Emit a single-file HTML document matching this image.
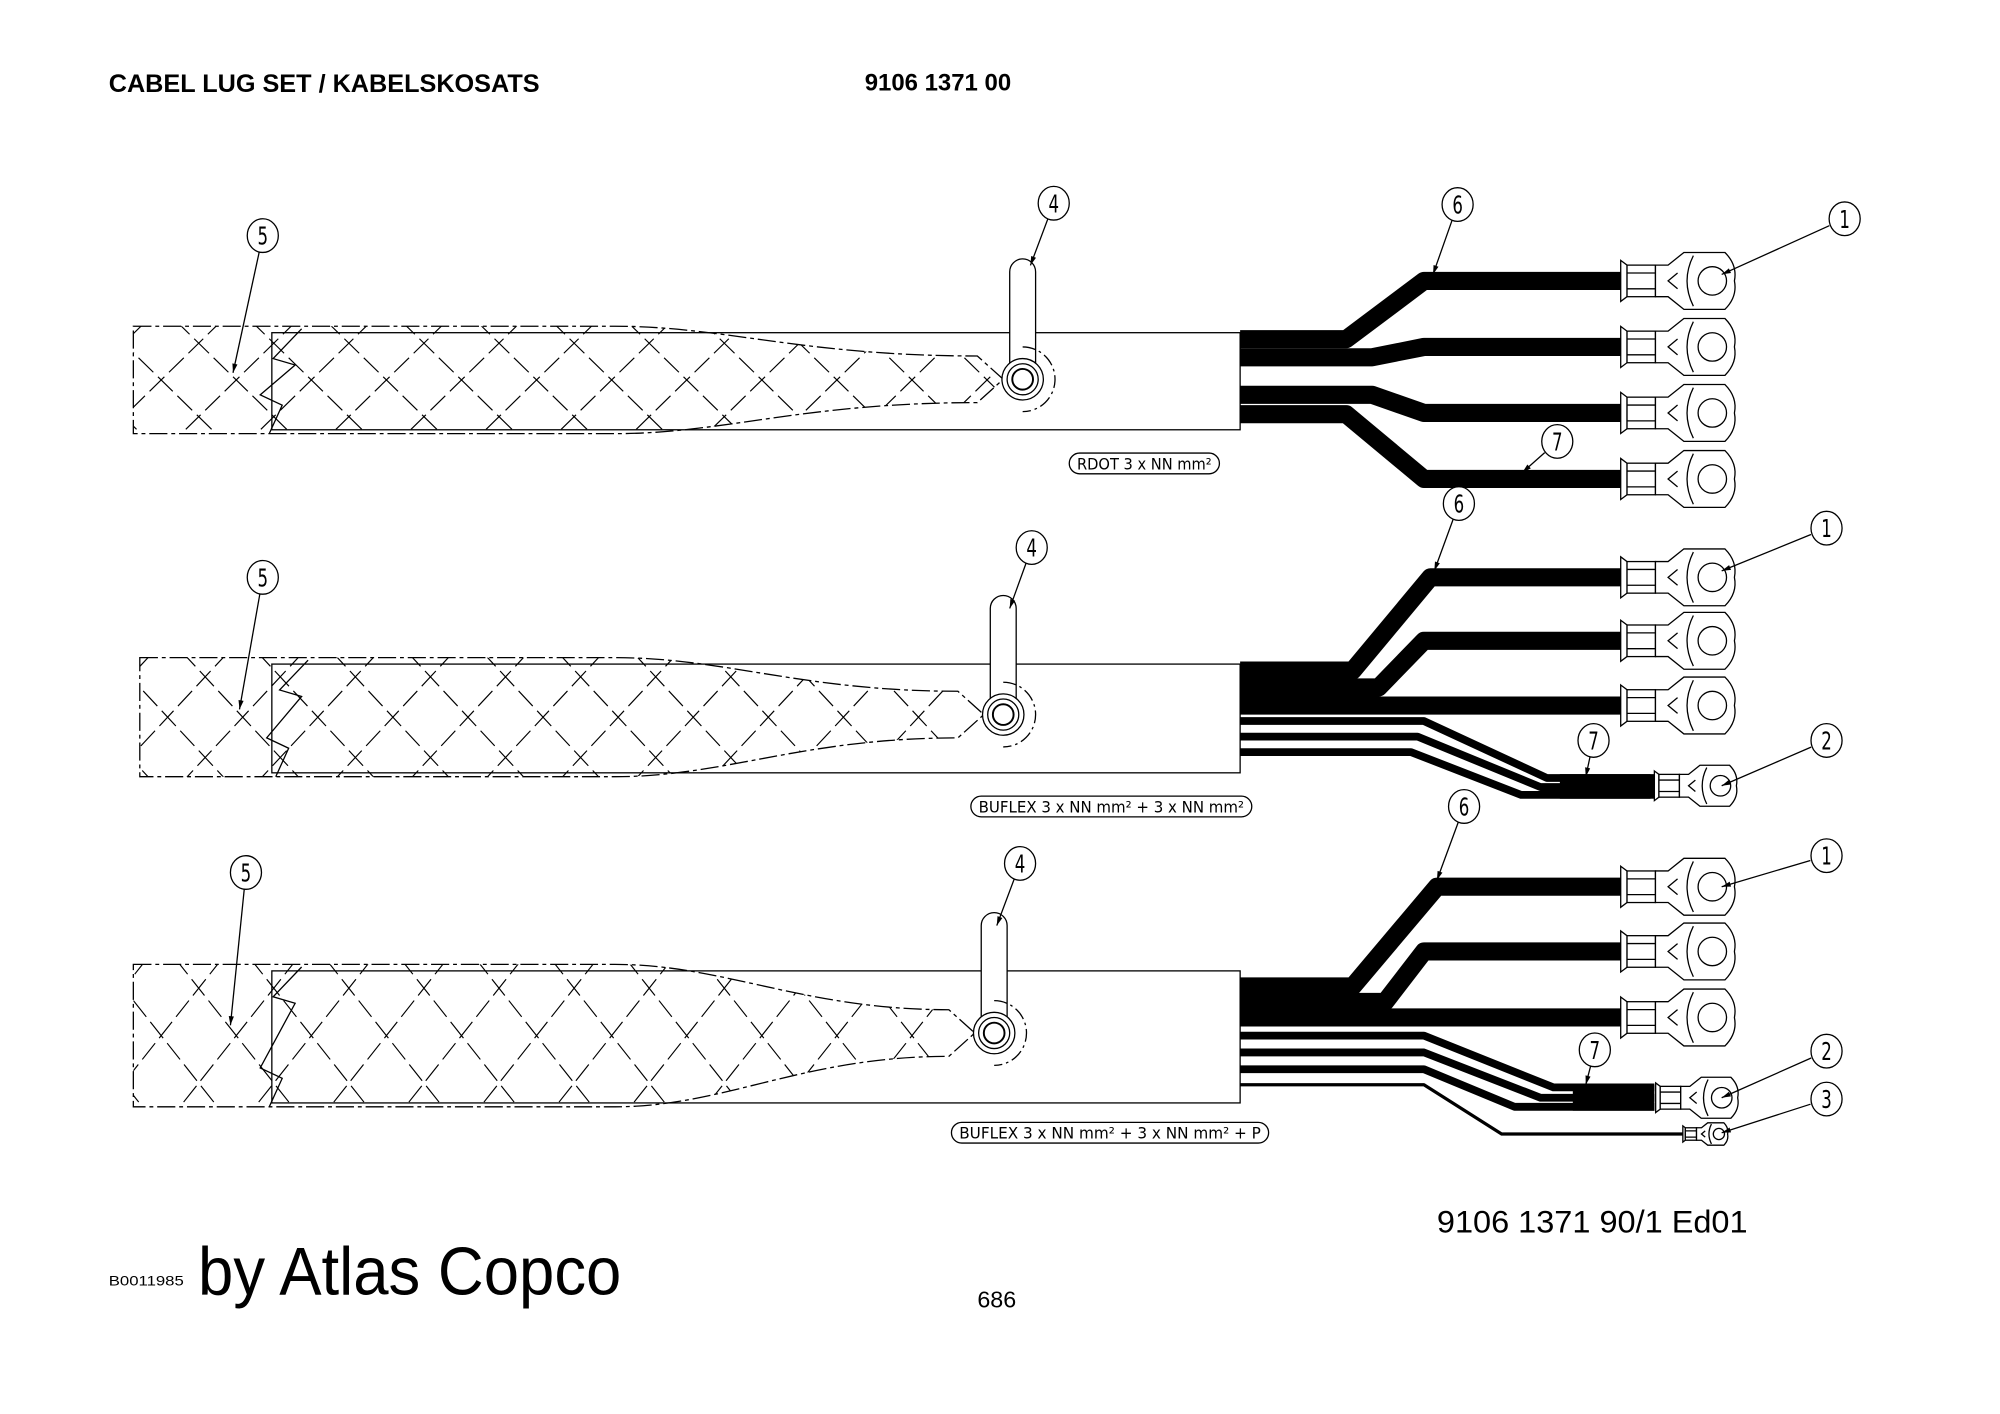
<!DOCTYPE html>
<html><head><meta charset="utf-8"><style>
html,body{margin:0;padding:0;background:#fff;}
svg{display:block;}
</style></head><body>
<svg id="s" width="2000" height="1414" viewBox="0 0 1545 1092.3" preserveAspectRatio="none" xmlns="http://www.w3.org/2000/svg" font-family="Liberation Sans, Arial, sans-serif">
<rect width="1545" height="1093" fill="#fff"/>
<text x="84" y="71" font-size="19.5" font-weight="bold">CABEL LUG SET / KABELSKOSATS</text>
<text x="668" y="70" font-size="18.5" font-weight="bold">9106 1371 00</text>
<text x="1110" y="952" font-size="24" textLength="240" lengthAdjust="spacingAndGlyphs">9106 1371 90/1  Ed01</text>
<text x="84" y="993" font-size="11" textLength="58" lengthAdjust="spacingAndGlyphs">B0011985</text>
<text x="153" y="1000" font-size="52" textLength="327" lengthAdjust="spacingAndGlyphs">by Atlas Copco</text>
<text x="755" y="1010" font-size="18" textLength="30" lengthAdjust="spacingAndGlyphs">686</text>
<g id="g" fill="none" stroke="#000"></g>
</svg>
<script>
var g=document.getElementById('g'),h='',cid=0;
function P(d,w,extra){h+='<path d="'+d+'" stroke-width="'+(w||1)+'" '+(extra||'')+'/>';}
function wire(pts,w){P('M'+pts.map(p=>p.join(' ')).join(' L'),w,'stroke-linejoin="round" stroke-linecap="butt"');}
function callout(cx,cy,n,tx,ty){
 h+='<ellipse cx="'+cx+'" cy="'+cy+'" rx="12" ry="13" fill="#fff" stroke-width="1"/>';
 h+='<text x="'+cx+'" y="'+(cy+7)+'" font-size="19" text-anchor="middle" fill="#000" stroke="none" font-family="DejaVu Sans Condensed, Liberation Sans, sans-serif" transform="translate('+cx+' 0) scale(0.75 1) translate('+(-cx)+' 0)">'+n+'</text>';
 var dx=tx-cx,dy=ty-cy,L=Math.hypot(dx,dy),sx=cx+dx/L*13,sy=cy+dy/L*13;
 P('M'+sx+' '+sy+' L'+tx+' '+ty,1);
 var ux=dx/L,uy=dy/L;
 h+='<path d="M'+tx+' '+ty+' L'+(tx-ux*7-uy*2)+' '+(ty-uy*7+ux*2)+' L'+(tx-ux*7+uy*2)+' '+(ty-uy*7-ux*2)+'Z" fill="#000" stroke="none"/>';
}
function lug(x,y,s){
 var k=s;
 h+='<g transform="translate('+x+' '+y+') scale('+k+')" stroke-width="'+(1/k)+'" fill="#fff">';
 h+='<path d="M0 -13 L4 -10 L4 10 L0 13 Z"/>';
 h+='<rect x="4" y="-10" width="18" height="20"/>';
 h+='<path d="M4 -5 H22 M4 5 H22" fill="none"/>';
 h+='<path d="M22 -10 L30 -10 L40 -18 L66 -18 Q74 -10 72 0 Q74 10 66 18 L40 18 L30 10 L22 10 Z"/>';
 h+='<path d="M46 -16 Q38 0 46 16" fill="none"/>';
 h+='<path d="M36 -5 L30 0 L36 5" fill="none"/>';
 h+='<circle cx="58" cy="0" r="9"/>';
 h+='</g>';
}
function panel(x0,y0,y1,ex,ey,slotTop,sx0){
 h+='<rect x="'+sx0+'" y="'+(y0+5)+'" width="'+(958-sx0)+'" height="'+(y1-y0-8)+'" fill="#fff" stroke-width="1"/>';
 var braid='M'+x0+' '+y0+' L475 '+y0+' C560 '+y0+' 620 '+(ey-18)+' '+(ex-35)+' '+(ey-18)+' L'+(ex-15)+' '+ey+' L'+(ex-35)+' '+(ey+18)+' C620 '+(ey+18)+' 560 '+y1+' 475 '+y1+' L'+x0+' '+y1+' Z';
 cid++;
 h+='<clipPath id="c'+cid+'"><path d="'+braid+'"/></clipPath>';
 h+='<g clip-path="url(#c'+cid+')">';
 for(var i=-200;i<900;i+=58){
  P('M'+(x0+i)+' '+(y0-5)+' L'+(x0+i+95)+' '+(y1+5),0.9,'stroke-dasharray="16 5"');
  P('M'+(x0+i+95)+' '+(y0-5)+' L'+(x0+i)+' '+(y1+5),0.9,'stroke-dasharray="16 5"');
 }
 h+='</g>';
 P(braid,1,'stroke-dasharray="14 3 3 3"');
 P('M'+(x0+130)+' '+(y0+2)+' L'+(x0+108)+' '+(y0+25)+' L'+(x0+125)+' '+(y0+30)+' L'+(x0+98)+' '+(y1-30)+' L'+(x0+115)+' '+(y1-22)+' L'+(x0+105)+' '+y1,1);
 h+='<rect x="'+(ex-10)+'" y="'+slotTop+'" width="20" height="'+(ey-slotTop)+'" rx="10" fill="#fff" stroke-width="1"/>';
 h+='<circle cx="'+ex+'" cy="'+ey+'" r="16" fill="#fff" stroke-width="1"/>';
 h+='<circle cx="'+ex+'" cy="'+ey+'" r="12" stroke-width="1"/>';
 h+='<circle cx="'+ex+'" cy="'+ey+'" r="8" stroke-width="1.5"/>';
 P('M'+ex+' '+(ey-25)+' A25 25 0 0 1 '+ex+' '+(ey+25),1,'stroke-dasharray="10 3 2 3"');
}
var W=14;
// Panel 1
panel(103,252,335,790,293,200,210);
wire([[958,262],[1040,262],[1100,217],[1255,217]],W);
wire([[958,276],[1060,276],[1100,268],[1255,268]],W);
wire([[958,305],[1060,305],[1100,319],[1255,319]],W);
wire([[958,320],[1040,320],[1100,370],[1255,370]],W);
[217,268,319,370].forEach(y=>lug(1252,y,1.22));
callout(203,182,5,180,288);
callout(814,157,4,796,205);
callout(1126,158,6,1107,212);
callout(1425,169,1,1330,212);
callout(1203,341,7,1176,365);
// Panel 2
panel(108,508,600,775,552,460,210);
wire([[958,518],[1045,518],[1105,446],[1255,446]],W);
wire([[958,531],[1065,531],[1100,495],[1255,495]],W);
wire([[958,545],[1255,545]],W);
wire([[958,557],[1100,557],[1195,601],[1275,601]],6);
wire([[958,569],[1095,569],[1190,608],[1275,608]],6);
wire([[958,581],[1090,581],[1175,614],[1275,614]],6);
h+='<rect x="1205" y="598" width="73" height="19" fill="#000" stroke="none"/>';
[446,495,545].forEach(y=>lug(1252,y,1.22));
lug(1278,607,0.88);
callout(203,446,5,185,548);
callout(797,423,4,780,470);
callout(1127,389,6,1108,441);
callout(1411,408,1,1330,441);
callout(1231,572,7,1225,600);
callout(1411,572,2,1330,607);
// Panel 3
panel(103,745,855,768,798,705,210);
wire([[958,762],[1045,762],[1110,685],[1255,685]],W);
wire([[958,774],[1070,774],[1100,735],[1255,735]],W);
wire([[958,786],[1255,786]],W);
wire([[958,800],[1100,800],[1200,840],[1278,840]],6);
wire([[958,813],[1100,813],[1190,848],[1278,848]],6);
wire([[958,826],[1100,826],[1170,855],[1278,855]],6);
wire([[958,838],[1100,838],[1160,876],[1300,876]],2.5);
h+='<rect x="1215" y="838" width="63" height="20" fill="#000" stroke="none"/>';
[685,735,786].forEach(y=>lug(1252,y,1.22));
lug(1279,848,0.88);
lug(1300,876,0.48);
callout(190,674,5,178,792);
callout(788,667,4,770,715);
callout(1131,623,6,1110,680);
callout(1411,661,1,1330,685);
callout(1232,811,7,1225,838);
callout(1411,812,2,1330,848);
callout(1411,849,3,1330,875);
function lab(x,y,w,t){
 h+='<rect x="'+x+'" y="'+y+'" width="'+w+'" height="16" rx="8" fill="#fff" stroke-width="1"/>';
 h+='<text x="'+(x+w/2)+'" y="'+(y+12.5)+'" font-size="12" text-anchor="middle" fill="#000" stroke="none" font-family="DejaVu Sans Condensed, Liberation Sans, sans-serif" textLength="'+(w-12)+'" lengthAdjust="spacingAndGlyphs">'+t+'</text>';
}
lab(826,350,116,'RDOT 3 x NN mm²');
lab(750,615,217,'BUFLEX 3 x NN mm² + 3 x NN mm²');
lab(735,867,245,'BUFLEX 3 x NN mm² + 3 x NN mm² + P');
g.innerHTML=h;
</script>
</body></html>
